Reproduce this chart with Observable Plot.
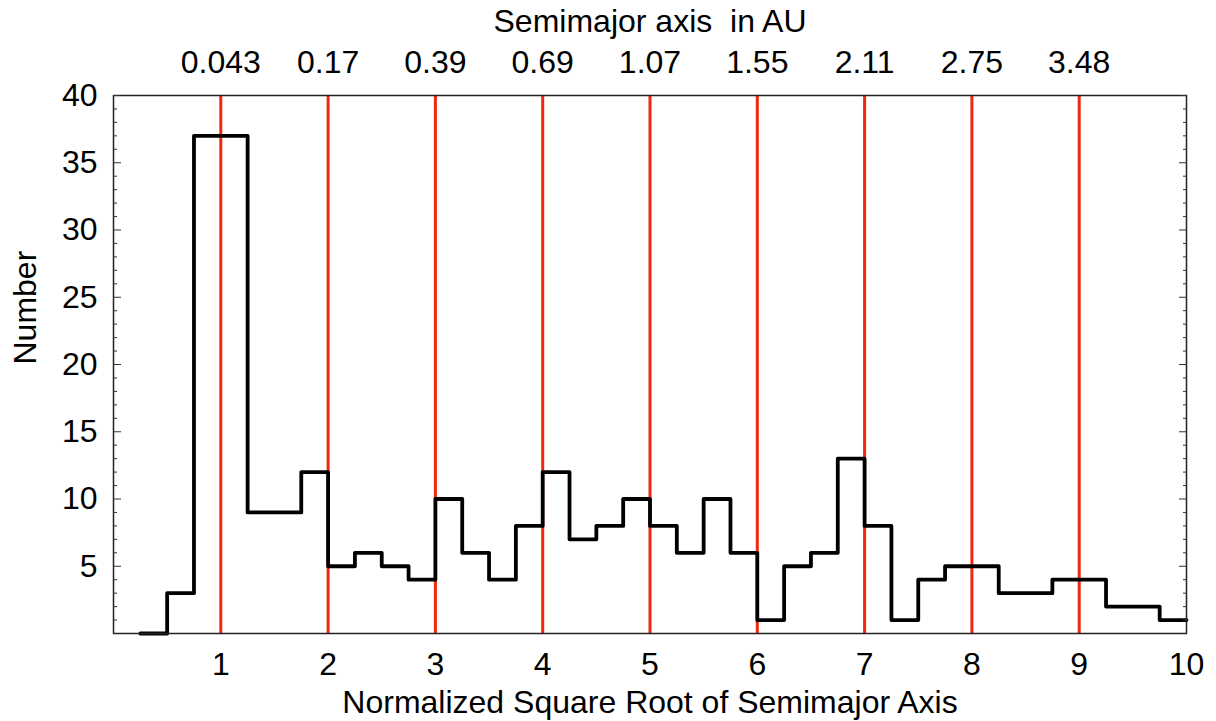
<!DOCTYPE html>
<html>
<head>
<meta charset="utf-8">
<script src="https://cdn.jsdelivr.net/npm/d3@7"></script>
<script src="https://cdn.jsdelivr.net/npm/@observablehq/plot@0.6"></script>
<style>
  html, body { margin: 0; padding: 0; background: #fff; }
  #chart { width: 1216px; height: 721px; }
</style>
</head>
<body>
<div id="chart"></div>
<script>
// Histogram of normalized sqrt(semimajor axis): left bin edges (width 0.25) and counts
const binStarts = [0.25, 0.5, 0.75, 1.0, 1.25, 1.5, 1.75, 2.0, 2.25, 2.5, 2.75,
  3.0, 3.25, 3.5, 3.75, 4.0, 4.25, 4.5, 4.75, 5.0, 5.25, 5.5, 5.75,
  6.0, 6.25, 6.5, 6.75, 7.0, 7.25, 7.5, 7.75, 8.0, 8.25, 8.5, 8.75,
  9.0, 9.25, 9.5, 9.75];
const binCounts = [0, 3, 37, 37, 9, 9, 12, 5, 6, 5, 4,
  10, 6, 4, 8, 12, 7, 8, 10, 8, 6, 10, 6,
  1, 5, 6, 13, 8, 1, 4, 5, 5, 3, 3, 4,
  4, 2, 2, 1];
const lastEdge = 10;

// Reference lines at integer normalized values, with semimajor axis in AU
const refPositions = [1, 2, 3, 4, 5, 6, 7, 8, 9];
const auLabels = ["0.043", "0.17", "0.39", "0.69", "1.07", "1.55", "2.11", "2.75", "3.48"];

const xTicks = [1, 2, 3, 4, 5, 6, 7, 8, 9, 10];
const yMajor = [5, 10, 15, 20, 25, 30, 35, 40];
const yMinor = d3.range(1, 40).filter(v => v % 5 !== 0);

const xTitle = "Normalized Square Root of Semimajor Axis";
const topTitle = "Semimajor axis  in AU";
const yTitle = "Number";

// Step outline: each bin start plus the closing right edge
const steps = binStarts.map((x, i) => ({x, y: binCounts[i]}));
steps.push({x: lastEdge, y: binCounts[binCounts.length - 1]});

const font = "'Liberation Sans', Arial, Helvetica, sans-serif";
const red = "#f0280f";
const fs = 32;

const chart = Plot.plot({
  width: 1216,
  height: 721,
  marginLeft: 113,
  marginRight: 30,
  marginTop: 95,
  marginBottom: 88,
  style: {fontFamily: font, fontSize: `${fs}px`, background: "#fff", color: "#000"},
  x: {domain: [0, 10]},
  y: {domain: [0, 40]},
  marks: [
    Plot.ruleX(refPositions, {stroke: red, strokeWidth: 3}),
    Plot.line(steps, {x: "x", y: "y", curve: "step-after", stroke: "#000", strokeWidth: 3.8}),
    Plot.frame({stroke: "#222", strokeWidth: 1.5}),
    // bottom axis labels
    Plot.axisX(xTicks, {anchor: "bottom", tickSize: 0, tickPadding: 19, label: null, fontSize: fs}),
    // top axis: semimajor axis in AU
    Plot.axisX(refPositions, {anchor: "top", tickSize: 0, tickPadding: 23, label: null,
      tickFormat: (d, i) => auLabels[i], fontSize: fs}),
    // left axis labels and inward ticks
    Plot.axisY(yMajor, {anchor: "left", tickSize: 0, tickPadding: 16, label: null, fontSize: fs}),
    Plot.axisY(yMajor, {anchor: "left", tickSize: -8, tickFormat: () => "", label: null, stroke: "#333"}),
    Plot.axisY(yMinor, {anchor: "left", tickSize: -4, tickFormat: () => "", label: null, stroke: "#333"}),
    // right side inward ticks
    Plot.axisY(yMajor, {anchor: "right", tickSize: -8, tickFormat: () => "", label: null, stroke: "#333"}),
    Plot.axisY(yMinor, {anchor: "right", tickSize: -4, tickFormat: () => "", label: null, stroke: "#333"}),
    // titles
    Plot.text([xTitle], {frameAnchor: "bottom", dy: 79, lineAnchor: "bottom", fontSize: fs, fill: "#000"}),
    Plot.text([topTitle], {frameAnchor: "top", dy: -64, lineAnchor: "bottom", fontSize: fs, fill: "#000"}),
    Plot.text([yTitle], {frameAnchor: "left", dx: -88, rotate: -90, fontSize: fs, fill: "#000"})
  ]
});

document.getElementById("chart").append(chart);
</script>
</body>
</html>
